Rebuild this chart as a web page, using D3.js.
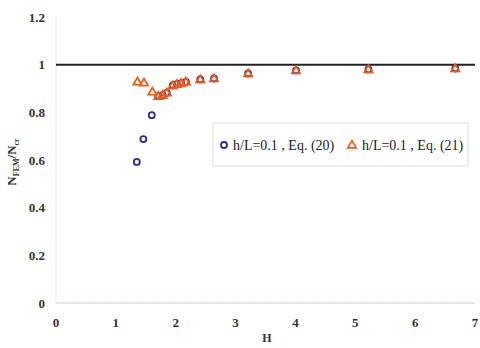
<!DOCTYPE html>
<html>
<head>
<meta charset="utf-8">
<script src="https://cdn.jsdelivr.net/npm/d3@7"></script>
<style>
  body { margin: 0; background: #fff; }
  text { font-family: "Liberation Serif", "Times New Roman", serif; }
</style>
</head>
<body>
<script>
// data
const hEq20 = [1.35, 1.46, 1.60, 1.71, 1.78, 1.85, 1.95, 2.02, 2.09, 2.17, 2.41, 2.64, 3.21, 4.01, 5.22, 6.67];
const nEq20 = [0.592, 0.688, 0.788, 0.868, 0.872, 0.882, 0.913, 0.918, 0.922, 0.928, 0.938, 0.942, 0.963, 0.976, 0.980, 0.984];
const hEq21 = [1.36, 1.47, 1.61, 1.71, 1.78, 1.85, 1.95, 2.02, 2.09, 2.17, 2.41, 2.64, 3.21, 4.01, 5.22, 6.67];
const nEq21 = [0.928, 0.924, 0.886, 0.868, 0.872, 0.882, 0.913, 0.918, 0.922, 0.928, 0.938, 0.942, 0.963, 0.976, 0.980, 0.984];
const xTicks = [0, 1, 2, 3, 4, 5, 6, 7];
const yTicks = [0, 0.2, 0.4, 0.6, 0.8, 1, 1.2];
const legendLabels = ["h/L=0.1 , Eq. (20)", "h/L=0.1 , Eq. (21)"];

const width = 480, height = 348;
const svg = d3.select("body").append("svg").attr("width", width).attr("height", height);

const x = d3.scaleLinear().domain([0, 7]).range([56, 475]);
const y = d3.scaleLinear().domain([0, 1.2]).range([303, 17]);

// faint axes
svg.append("line").attr("x1", x(0)).attr("x2", x(7)).attr("y1", y(0)).attr("y2", y(0))
    .attr("stroke", "#d8c8cc").attr("stroke-width", 1.2);
svg.append("line").attr("x1", x(0)).attr("x2", x(0)).attr("y1", y(0)).attr("y2", y(1.2))
    .attr("stroke", "#f0e4e6").attr("stroke-width", 1);

// tick labels
svg.selectAll(".xt").data(xTicks).enter().append("text")
    .attr("x", (d) => x(d)).attr("y", 327)
    .attr("text-anchor", "middle").attr("font-size", 13).attr("font-weight", "bold").attr("fill", "#333")
    .text((d) => d);
svg.selectAll(".yt").data(yTicks).enter().append("text")
    .attr("x", 45).attr("y", (d) => y(d) + 4.5)
    .attr("text-anchor", "end").attr("font-size", 13).attr("font-weight", "bold").attr("fill", "#333")
    .text((d) => d);

// axis titles
svg.append("text").attr("x", 267).attr("y", 342).attr("text-anchor", "middle")
    .attr("font-size", 12).attr("font-weight", "bold").attr("fill", "#333").text("H");
const yl = svg.append("text").attr("transform", "translate(16,162) rotate(-90)")
    .attr("text-anchor", "middle").attr("font-size", 13).attr("font-weight", "bold").attr("fill", "#333");
yl.append("tspan").text("N");
yl.append("tspan").attr("font-size", 8).attr("dy", 3).text("FEM");
yl.append("tspan").attr("dy", -3).text("/N");
yl.append("tspan").attr("font-size", 8).attr("dy", 3).text("cr");

// reference line at 1
svg.append("line").attr("x1", x(0)).attr("x2", x(7)).attr("y1", y(1)).attr("y2", y(1))
    .attr("stroke", "#222").attr("stroke-width", 2);

// markers
const tri = d3.symbol().type(d3.symbolTriangle).size(30);
const circ = svg.append("g");
circ.selectAll("circle").data(hEq20).enter().append("circle")
    .attr("cx", (d) => x(d)).attr("cy", (d, i) => y(nEq20[i])).attr("r", 3)
    .attr("fill", "none").attr("stroke", "#2b2b9c").attr("stroke-width", 1.8);
const trg = svg.append("g");
trg.selectAll("path").data(hEq21).enter().append("path")
    .attr("d", tri)
    .attr("transform", (d, i) => "translate(" + x(d) + "," + (y(nEq21[i]) + 0.5) + ")")
    .attr("fill", "none").attr("stroke", "#f55a10").attr("stroke-width", 1.7);

// legend
const lg = svg.append("g");
lg.append("rect").attr("x", 213).attr("y", 123).attr("width", 255).attr("height", 43)
    .attr("fill", "#fff").attr("stroke", "#ddd").attr("stroke-width", 1);
lg.append("circle").attr("cx", 224).attr("cy", 145).attr("r", 3)
    .attr("fill", "none").attr("stroke", "#2b2b9c").attr("stroke-width", 1.8);
lg.append("text").attr("x", 233).attr("y", 150).attr("font-size", 14).attr("fill", "#222").text(legendLabels[0]);
lg.append("path").attr("d", tri).attr("transform", "translate(352,145.5)")
    .attr("fill", "none").attr("stroke", "#f55a10").attr("stroke-width", 1.7);
lg.append("text").attr("x", 362).attr("y", 150).attr("font-size", 14).attr("fill", "#222").text(legendLabels[1]);
</script>
</body>
</html>
